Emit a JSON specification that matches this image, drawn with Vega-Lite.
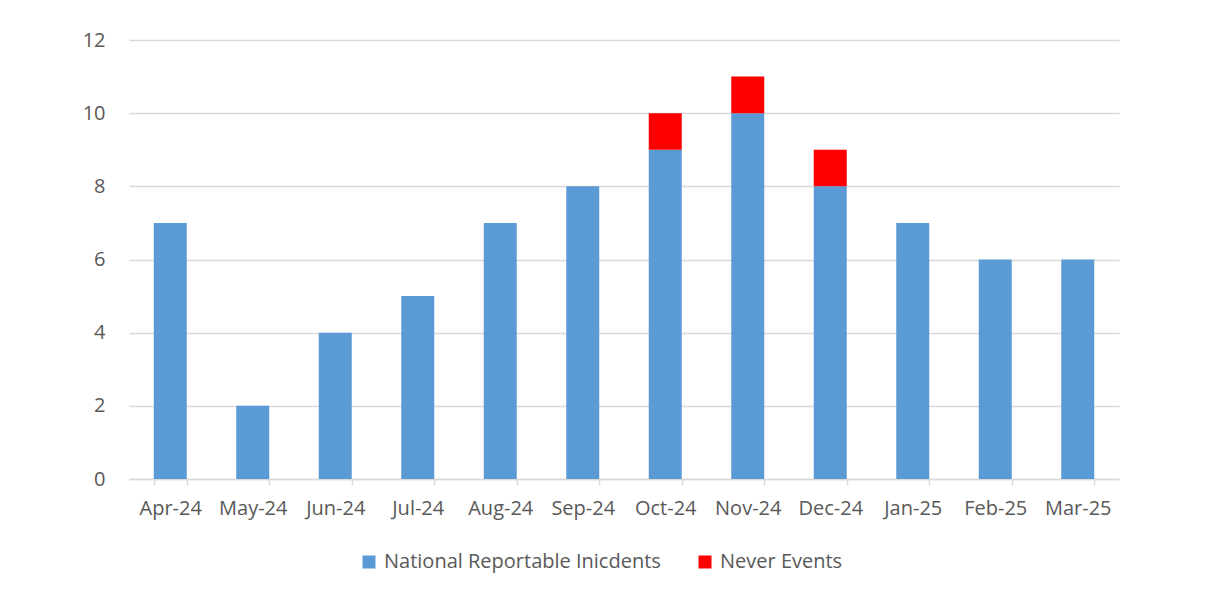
{
  "$schema": "https://vega.github.io/schema/vega-lite/v6.json",
  "width": 990,
  "height": 439,
  "autosize": {"type": "none"},
  "padding": {"left": 129, "top": 40, "right": 89, "bottom": 127},
  "background": "white",
  "data": {
    "values": [
      {"month": "Apr-24", "series": "National Reportable Inicdents", "count": 7},
      {"month": "May-24", "series": "National Reportable Inicdents", "count": 2},
      {"month": "Jun-24", "series": "National Reportable Inicdents", "count": 4},
      {"month": "Jul-24", "series": "National Reportable Inicdents", "count": 5},
      {"month": "Aug-24", "series": "National Reportable Inicdents", "count": 7},
      {"month": "Sep-24", "series": "National Reportable Inicdents", "count": 8},
      {"month": "Oct-24", "series": "National Reportable Inicdents", "count": 9},
      {"month": "Nov-24", "series": "National Reportable Inicdents", "count": 10},
      {"month": "Dec-24", "series": "National Reportable Inicdents", "count": 8},
      {"month": "Jan-25", "series": "National Reportable Inicdents", "count": 7},
      {"month": "Feb-25", "series": "National Reportable Inicdents", "count": 6},
      {"month": "Mar-25", "series": "National Reportable Inicdents", "count": 6},
      {"month": "Oct-24", "series": "Never Events", "count": 1},
      {"month": "Nov-24", "series": "Never Events", "count": 1},
      {"month": "Dec-24", "series": "Never Events", "count": 1}
    ]
  },
  "mark": {"type": "bar"},
  "encoding": {
    "x": {
      "field": "month",
      "type": "ordinal",
      "sort": null,
      "scale": {"paddingInner": 0.6, "paddingOuter": 0.3},
      "axis": {
        "title": null,
        "labelAngle": 0,
        "tickBand": "extent",
        "tickSize": 6,
        "tickColor": "#d9d9d9",
        "tickWidth": 1.5,
        "domainColor": "#d9d9d9",
        "domainWidth": 1.5,
        "labelPadding": 13,
        "labelFont": "Open Sans",
        "labelFontSize": 20,
        "labelLimit": 0,
        "labelColor": "#595959",
        "grid": false
      }
    },
    "y": {
      "field": "count",
      "type": "quantitative",
      "aggregate": "sum",
      "stack": "zero",
      "scale": {"domain": [0, 12], "nice": false},
      "axis": {
        "title": null,
        "values": [0, 2, 4, 6, 8, 10, 12],
        "domain": false,
        "ticks": false,
        "tickSize": 0,
        "labelPadding": 24,
        "labelFont": "Open Sans",
        "labelFontSize": 20,
        "labelColor": "#595959",
        "gridColor": "#d9d9d9",
        "gridWidth": 1.5
      }
    },
    "color": {
      "field": "series",
      "type": "nominal",
      "scale": {
        "domain": ["National Reportable Inicdents", "Never Events"],
        "range": ["#5B9BD5", "#FF0000"]
      },
      "legend": {
        "title": null,
        "orient": "none",
        "direction": "horizontal",
        "legendX": 230,
        "legendY": 512,
        "symbolType": "square",
        "symbolSize": 169,
        "symbolStrokeWidth": 0,
        "labelFont": "Open Sans",
        "labelFontSize": 20,
        "labelLimit": 0,
        "labelColor": "#595959",
        "labelOffset": 5,
        "columnPadding": 34
      }
    },
    "order": {"field": "series", "sort": "ascending"}
  },
  "config": {"view": {"stroke": null}}
}
